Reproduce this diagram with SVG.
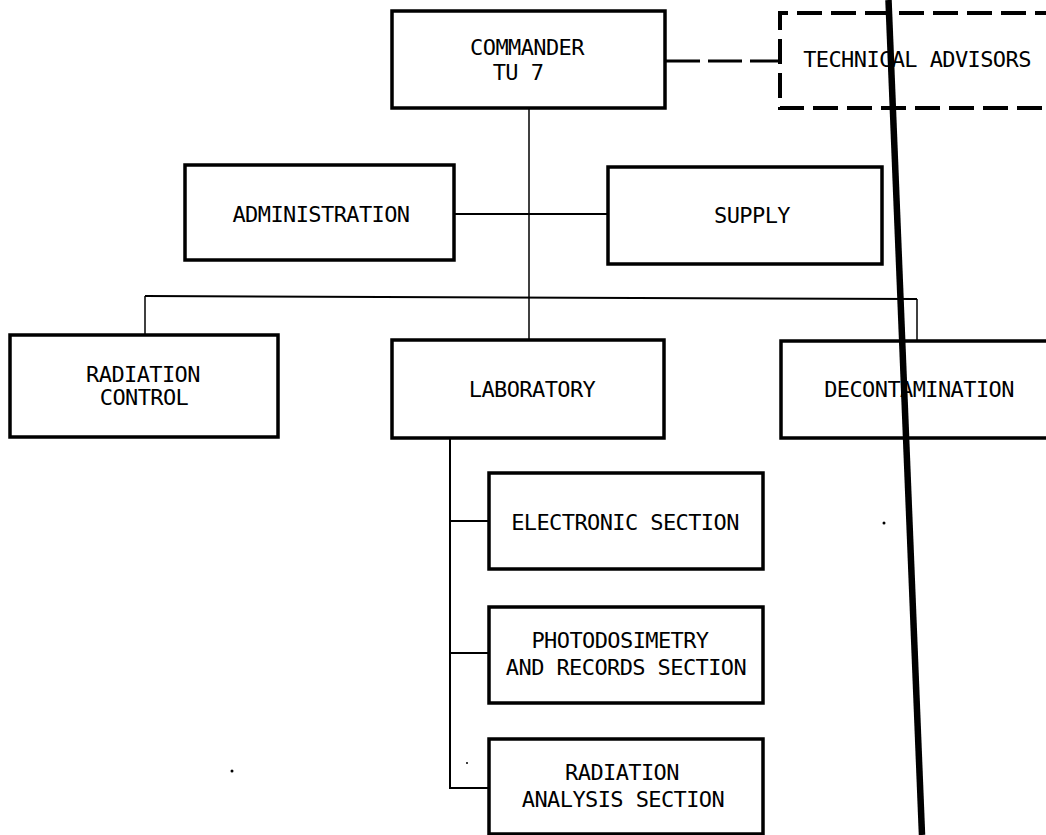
<svg xmlns="http://www.w3.org/2000/svg" width="1046" height="835" viewBox="0 0 1046 835">
<style>
.box{fill:#fff;stroke:#000;stroke-width:3.5}
.dbox{fill:#fff;stroke:#000;stroke-width:4;stroke-dasharray:25 9}
.t{font-family:"DejaVu Sans Mono","Liberation Mono",monospace;font-size:22px;letter-spacing:-0.6px;fill:#000;text-anchor:middle}
.c{fill:none;stroke:#000;stroke-width:2}
.thin{fill:none;stroke:#000;stroke-width:1.5}
</style>
<rect width="1046" height="835" fill="#fff"/>
<g id="connectors">
<line class="thin" x1="529" y1="108" x2="529" y2="340"/>
<line x1="666" y1="61" x2="780" y2="61" stroke="#000" stroke-width="3" stroke-dasharray="34 8"/>
<line class="c" x1="454" y1="214" x2="608" y2="214" stroke-width="2.5"/>
<line class="c" x1="145" y1="296" x2="917" y2="299"/>
<line class="thin" x1="145" y1="296" x2="145" y2="335"/>
<line class="thin" x1="917" y1="299" x2="917" y2="341"/>
<polyline class="c" points="450,438 450,788 489,788"/>
<line class="c" x1="450" y1="521" x2="489" y2="521"/>
<line class="c" x1="450" y1="653" x2="489" y2="653"/>
</g>
<g id="commander"><rect class="box" x="392" y="11" width="273" height="97"/>
<text class="t" x="527" y="55">COMMANDER</text><text class="t" x="518" y="80">TU 7</text></g>
<g id="technical-advisors"><path class="dbox" d="M1060,13 H780 V108 H1060"/>
<text class="t" x="917" y="67">TECHNICAL ADVISORS</text></g>
<g id="administration"><rect class="box" x="185" y="165" width="269" height="95"/>
<text class="t" x="321" y="222">ADMINISTRATION</text></g>
<g id="supply"><rect class="box" x="608" y="167" width="274" height="97"/>
<text class="t" x="752" y="223">SUPPLY</text></g>
<g id="radiation-control"><rect class="box" x="10" y="335" width="268" height="102"/>
<text class="t" x="143" y="382">RADIATION</text><text class="t" x="144" y="405">CONTROL</text></g>
<g id="laboratory"><rect class="box" x="392" y="340" width="272" height="98"/>
<text class="t" x="532" y="397">LABORATORY</text></g>
<g id="decontamination"><rect class="box" x="781" y="341" width="280" height="97"/>
<text class="t" x="919" y="397">DECONTAMINATION</text></g>
<g id="electronic-section"><rect class="box" x="489" y="473" width="274" height="96"/>
<text class="t" x="625" y="530">ELECTRONIC SECTION</text></g>
<g id="photodosimetry"><rect class="box" x="489" y="607" width="274" height="96"/>
<text class="t" x="620" y="648">PHOTODOSIMETRY</text><text class="t" x="626" y="675">AND RECORDS SECTION</text></g>
<g id="radiation-analysis"><rect class="box" x="489" y="739" width="274" height="95"/>
<text class="t" x="622" y="780">RADIATION</text><text class="t" x="623" y="807">ANALYSIS SECTION</text></g>
<line x1="888.5" y1="0" x2="922" y2="835" stroke="#000" stroke-width="6.5"/>
<circle cx="884" cy="523" r="1.5"/>
<circle cx="467" cy="763" r="1"/>
<circle cx="232" cy="771" r="1.5"/>
</svg>
